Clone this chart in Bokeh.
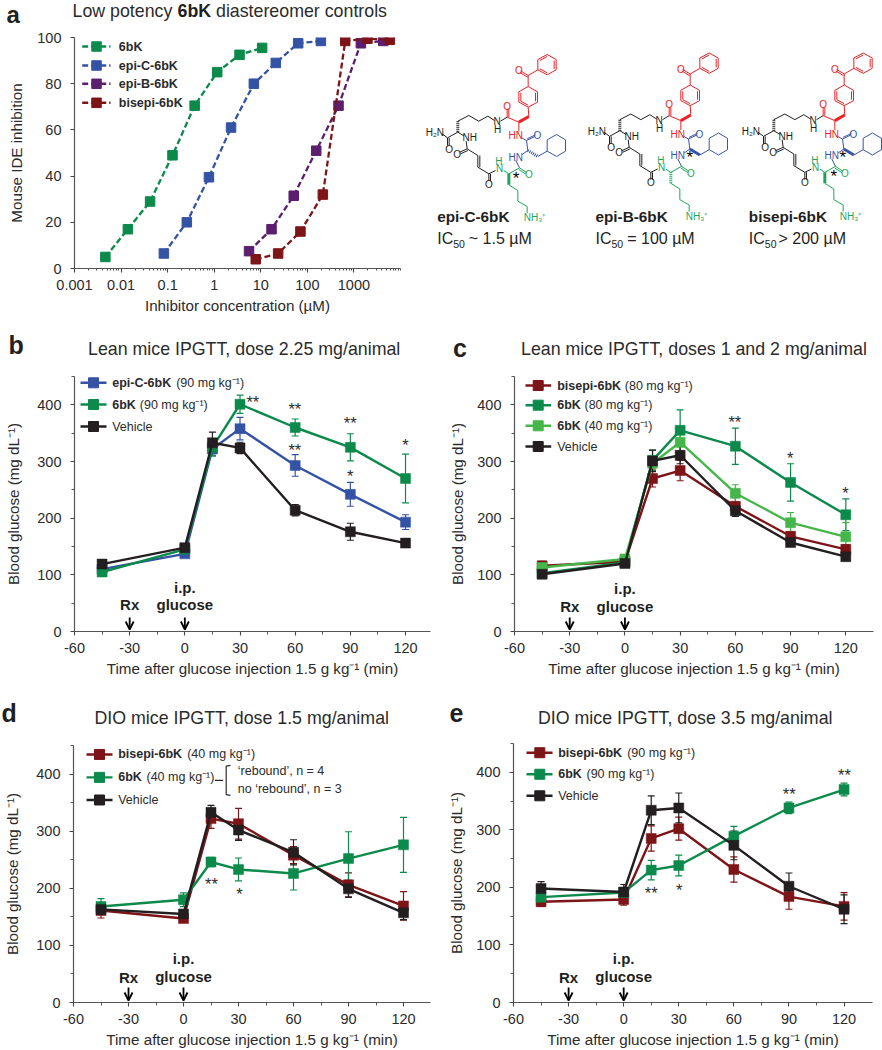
from bokeh.embed import file_html
from bokeh.resources import INLINE
from bokeh.layouts import column, row
from bokeh.models import (Label, Range1d, FixedTicker, LinearAxis, LogAxis, LogScale, ColumnDataSource,
                          Whisker, TeeHead, Arrow, OpenHead)
from bokeh.plotting import figure
import math

# ---------- colours / fonts
GREEN = "#0c8a4b"; BLUE = "#3553a5"; PURPLE = "#5c1f6f"; MAROON = "#7d1518"; BLACK = "#231f20"; LIGHT = "#45b649"
INK = "#2b2b2b"; FONT = "Liberation Sans"

# ---------- panel a data
a_6bk_x = [0.0046, 0.014, 0.042, 0.127, 0.38, 1.16, 3.5, 10.7]
a_6bk_y = [5, 17, 29, 49, 70.5, 85, 92.5, 95.5]
a_epic_x = [0.083, 0.258, 0.77, 2.3, 7.1, 21, 63.5, 195]
a_epic_y = [6.5, 20, 39.5, 61, 80, 89, 97.5, 98.5]
a_epib_x = [5.6, 17, 51, 155, 467, 1410, 4260]
a_epib_y = [7.5, 17, 31.5, 51, 70.5, 97.5, 98.5]
a_bis_x = [7.8, 23.6, 71, 215, 650, 1950, 5900]
a_bis_y = [4, 6.5, 16, 32, 98.5, 99.5, 99]
a_xticks = [0.001, 0.01, 0.1, 1, 10, 100, 1000]
a_xlabels = ["0.001", "0.01", "0.1", "1", "10", "100", "1000"]
a_yticks = [0, 20, 40, 60, 80, 100]

# ---------- time-course data
times = [-45, 0, 15, 30, 60, 90, 120]
time_ticks = [-60, -30, 0, 30, 60, 90, 120]
time_labels = ["-60", "-30", "0", "30", "60", "90", "120"]
time_minor = [-45, -15, 15, 45, 75, 105]
glu_ticks = [0, 100, 200, 300, 400]
glu_minor = [50, 150, 250, 350, 450]

b_epic = [110, 137, 322, 358, 293, 242, 193]
b_epic_e = [5, 4, 12, 20, 19, 21, 13]
b_6bk = [105, 145, 325, 401, 360, 325, 270]
b_6bk_e = [5, 5, 15, 16, 15, 24, 43]
b_veh = [119, 148, 333, 324, 214, 176, 156]
b_veh_e = [8, 6, 19, 10, 10, 15, 6]

c_bis = [116, 123, 270, 284, 221, 168, 145]
c_bis_e = [8, 8, 15, 18, 15, 8, 8]
c_6bk80 = [103, 122, 302, 355, 327, 263, 206]
c_6bk80_e = [6, 6, 18, 36, 32, 33, 28]
c_6bk40 = [113, 128, 297, 334, 244, 192, 167]
c_6bk40_e = [5, 6, 10, 20, 15, 18, 25]
c_veh = [101, 120, 301, 311, 213, 157, 132]
c_veh_e = [7, 7, 19, 15, 10, 5, 5]

d_bis = [161, 147, 322, 313, 258, 206, 169]
d_bis_e = [13, 5, 17, 27, 15, 21, 25]
d_6bk = [168, 180, 246, 233, 226, 252, 276]
d_6bk_e = [14, 12, 8, 20, 29, 47, 48]
d_veh = [163, 155, 333, 302, 263, 199, 157]
d_veh_e = [5, 6, 12, 18, 22, 15, 12]

e_bis = [175, 179, 285, 302, 231, 184, 167]
e_bis_e = [8, 10, 22, 20, 22, 22, 24]
e_6bk = [183, 191, 230, 238, 289, 338, 370]
e_6bk_e = [10, 5, 17, 18, 17, 10, 11]
e_veh = [198, 192, 334, 338, 273, 202, 162]
e_veh_e = [12, 13, 25, 26, 25, 23, 25]

XLAB = "Time after glucose injection 1.5 g kg\u207b\u00b9 (min)"
YLAB = "Blood glucose (mg dL\u207b\u00b9)"


class Panel:
    """A figure whose frame is placed at given page pixels; helpers map page pixels to data."""
    def __init__(self, ox, oy, w, h, fx0, fx1, fy0, fy1, xr, yr, log=False):
        fx0, fx1, fy0, fy1 = round(fx0), round(fx1), round(fy0), round(fy1)
        self.fx0, self.fx1, self.fy0, self.fy1, self.xr, self.yr, self.log = fx0, fx1, fy0, fy1, xr, yr, log
        self.p = figure(width=w, height=h, output_backend="svg", toolbar_location=None,
                        x_range=Range1d(*xr), y_range=Range1d(*yr), x_axis_type=None, y_axis_type=None)
        p = self.p
        p.frame_align = False
        if log:
            p.x_scale = LogScale()
        p.min_border_left = fx0 - ox; p.min_border_right = ox + w - fx1
        p.min_border_top = fy0 - oy; p.min_border_bottom = oy + h - fy1
        p.outline_line_color = None
        p.background_fill_color = None
        p.border_fill_color = None

    def X(self, px):
        t = (px - self.fx0) / (self.fx1 - self.fx0)
        if self.log:
            a, b = math.log10(self.xr[0]), math.log10(self.xr[1])
            return 10 ** (a + t * (b - a))
        return self.xr[0] + t * (self.xr[1] - self.xr[0])

    def Y(self, py):
        t = (self.fy1 - py) / (self.fy1 - self.fy0)
        return self.yr[0] + t * (self.yr[1] - self.yr[0])

    def text(self, px, py, s, size=14, bold=False, color=INK, align="left", baseline="middle"):
        self.p.add_layout(Label(x=self.X(px), y=self.Y(py), text=s, text_font=FONT,
                                text_font_size=f"{size}px", text_font_style="bold" if bold else "normal",
                                text_color=color, text_align=align, text_baseline=baseline))


def strip(oy, h, items):
    """Heading band: a figure without axes holding the panel letters and titles (page pixels)."""
    s = figure(width=874, height=h, output_backend="svg", toolbar_location=None, x_axis_type=None, y_axis_type=None,
               x_range=Range1d(0, 874), y_range=Range1d(oy + h, oy), min_border=0)
    s.frame_align = False
    s.outline_line_color = None
    s.border_fill_color = None
    for px, py, t, size, bold in items:
        s.add_layout(Label(x=px, y=py, text=t, text_font=FONT, text_font_size=f"{size}px",
                           text_font_style="bold" if bold else "normal", text_color=BLACK if bold else INK,
                           text_align="left", text_baseline="middle"))
    return s


def style_axis(ax):
    ax.axis_line_color = "#555555"; ax.axis_line_width = 1.2
    ax.major_tick_line_color = "#444444"; ax.minor_tick_line_color = "#555555"
    ax.major_tick_line_width = 1.1; ax.minor_tick_line_width = 1
    ax.major_tick_out = 4; ax.major_tick_in = 0; ax.minor_tick_out = 3; ax.minor_tick_in = 0
    ax.major_label_text_font = FONT; ax.major_label_text_font_size = "14.5px"; ax.major_label_text_color = INK
    ax.axis_label_text_font = FONT; ax.axis_label_text_font_size = "15.2px"; ax.axis_label_text_color = INK
    ax.axis_label_text_font_style = "normal"


def time_panel(ox, oy, w, h, fx0, fx1, fy0, fy1, x120, ylab_standoff):
    xend = -60 + 180 * (fx1 - fx0) / (x120 - fx0)
    P = Panel(ox, oy, w, h, fx0, fx1, fy0, fy1, (-60, xend), (0, 450))
    xa = LinearAxis(ticker=FixedTicker(ticks=time_ticks, minor_ticks=time_minor),
                    major_label_overrides=dict(zip(time_ticks, time_labels)), axis_label=XLAB)
    ya = LinearAxis(ticker=FixedTicker(ticks=glu_ticks, minor_ticks=glu_minor), axis_label=YLAB)
    for ax in (xa, ya):
        style_axis(ax)
    xa.major_label_standoff = 7; xa.axis_label_standoff = 4
    ya.major_label_standoff = 9; ya.axis_label_standoff = ylab_standoff
    P.p.add_layout(xa, "below"); P.p.add_layout(ya, "left")
    return P


def series(P, ys, es, color, size=10):
    p = P.p
    src = ColumnDataSource(dict(x=times, y=ys, u=[v + e for v, e in zip(ys, es)], l=[v - e for v, e in zip(ys, es)]))
    p.add_layout(Whisker(source=src, base="x", upper="u", lower="l", dimension="height",
                         line_color=color, line_width=1.2, level="underlay",
                         upper_head=TeeHead(size=7, line_color=color, line_width=1.2),
                         lower_head=TeeHead(size=7, line_color=color, line_width=1.2)))
    p.line("x", "y", source=src, line_color=color, line_width=2.4)
    p.scatter("x", "y", source=src, marker="square", size=size, fill_color=color, line_color=color, line_width=0.5)


def legend_row(P, y, x0, x1, xm, xt, bold, xn, rest, color, dash=None):
    kw = dict(line_dash=dash) if dash else {}
    P.p.line([P.X(x0), P.X(x1)], [P.Y(y), P.Y(y)], line_color=color, line_width=2.4, **kw)
    P.p.scatter([P.X(xm)], [P.Y(y)], marker="square", size=10 if not dash else 9.5, fill_color=color, line_color=color)
    P.text(xt, y, bold, size=12.5, bold=not rest == "__plain__", color=INK)
    if rest and rest != "__plain__":
        P.text(xn, y, rest, size=12.5, color=INK)


def P_x(P, t):
    return P.fx0 + (t - P.xr[0]) / (P.xr[1] - P.xr[0]) * (P.fx1 - P.fx0)


def markers(P, rx_y, ip_y, glu_y, y_tip, y_tail):
    P.text(P_x(P, -30), rx_y, "Rx", size=15, bold=True, align="center", color=BLACK)
    P.text(P_x(P, 0), ip_y, "i.p.", size=15, bold=True, align="center", color=BLACK)
    P.text(P_x(P, 0), glu_y, "glucose", size=15, bold=True, align="center", color=BLACK)
    for t in (-30, 0):
        P.p.add_layout(Arrow(end=OpenHead(size=8, line_width=1.8, line_color="black"), x_start=t, x_end=t,
                             y_start=P.Y(y_tail), y_end=P.Y(y_tip), line_width=1.8, line_color="black"))


def stars(P, items):
    for x, y, s in items:
        P.text(x, y + 4, s, size=16.5, color=INK, align="center")


# ---------- Panel a
A = Panel(0, 27, 410, 299, 74, 400, 37, 268.5, (0.001, 10000), (0, 100), log=True)
pa = A.p
xa = LogAxis(ticker=FixedTicker(ticks=a_xticks,
                                minor_ticks=[m * 10 ** e for e in range(-3, 4) for m in (2, 3, 4, 5, 6, 7, 8, 9)] + [10000]),
             major_label_overrides=dict(zip(a_xticks, a_xlabels)), axis_label="Inhibitor concentration (\u00b5M)")
ya = LinearAxis(ticker=FixedTicker(ticks=a_yticks), axis_label="Mouse IDE inhibition")
style_axis(xa); style_axis(ya)
xa.major_label_standoff = 7; xa.axis_label_standoff = 4; xa.minor_tick_out = 2
ya.major_label_standoff = 9; ya.axis_label_standoff = 9
pa.add_layout(xa, "below"); pa.add_layout(ya, "left")
for xs, ys, c in [(a_6bk_x, a_6bk_y, GREEN), (a_epic_x, a_epic_y, BLUE), (a_epib_x, a_epib_y, PURPLE), (a_bis_x, a_bis_y, MAROON)]:
    pa.line(xs, ys, line_color=c, line_width=2.3, line_dash="6 3")
    pa.scatter(xs, ys, marker="square", size=9.5, fill_color=c, line_color=c)
for y, t, c in [(46, "6bK", GREEN), (65, "epi-C-6bK", BLUE), (83.3, "epi-B-6bK", PURPLE), (102.3, "bisepi-6bK", MAROON)]:
    legend_row(A, y, 81.7, 110, 96, 118.3, t, 0, "", c, dash="6 3")

# ---------- Structures (page-pixel drawing canvas, no data)
S = figure(width=472, height=299, output_backend="svg", toolbar_location=None, x_axis_type=None, y_axis_type=None,
           x_range=Range1d(410, 882), y_range=Range1d(326, 27), min_border=0)
S.frame_align = False
S.outline_line_color = None
S.border_fill_color = None
CR = "#ed2024"; CB = "#3953a4"; CG = "#1fa55a"; CK = "#231f20"


def ring(pts):
    return list(zip(pts, pts[1:] + pts[:1]))


def structure(dx, dy, blue_bold, green_bold, stars_at, name, name_x, ic, ic_x):
    def Z(pt):
        return (400 + pt[0] / 3 + dx, 50 + pt[1] / 3 + dy)

    def bond(a, b, c, w=1.0, dash=None):
        A_, B_ = Z(a), Z(b)
        kw = dict(line_dash=dash) if dash else {}
        S.line([A_[0], B_[0]], [A_[1], B_[1]], line_color=c, line_width=w, **kw)

    def dbl(a, b, c, ox=5, oy=0):
        bond(a, b, c)
        bond((a[0] + ox, a[1] + oy), (b[0] + ox, b[1] + oy), c)

    def lab(pt, s, c, size=10):
        X, Y = Z(pt)
        S.add_layout(Label(x=X, y=Y, text=s, text_font=FONT, text_font_size=f"{size}px", text_color=c,
                           text_align="center", text_baseline="middle"))

    # black part
    bond((125, 250), (141, 262), CK); dbl((141, 262), (141, 285), CK, 5)
    bond((141, 262), (172, 245), CK); bond((172, 245), (172, 212), CK, 3, "1 1")
    for a, b in [((172, 212), (205, 195)), ((205, 195), (235, 212)), ((235, 212), (262, 197)), ((262, 197), (282, 210)),
                 ((300, 212), (320, 200)), ((172, 245), (190, 256)), ((197, 272), (200, 295)),
                 ((200, 295), (232, 315)), ((232, 350), (265, 370)), ((265, 370), (285, 360))]:
        bond(a, b, CK)
    dbl((200, 295), (178, 305), CK, 2, 5); dbl((232, 315), (232, 350), CK, 6)
    dbl((265, 370), (265, 392), CK, 5)
    lab((103, 247), "H\u2082N", CK); lab((146, 296), "O", CK); lab((208, 262), "NH", CK)
    lab((170, 311), "O", CK); lab((265, 401), "O", CK)
    lab((290, 213), "N", CK); lab((291, 237), "H", CK)
    # red part
    bond((320, 200), (355, 215), CR); dbl((320, 200), (320, 175), CR, 5)
    bond((355, 215), (385, 198), CR, 3); bond((385, 198), (383, 170), CR)
    ra = [(383, 108), (411, 124), (411, 155), (383, 170), (355, 155), (355, 124)]
    for a, b in ring(ra):
        bond(a, b, CR)
    bond((361, 127), (361, 152), CR); bond((405, 127), (405, 152), CR); bond((383, 164), (361, 152), CR)
    bond((383, 108), (383, 75), CR); dbl((383, 75), (360, 61), CR, -2, 5); bond((383, 75), (412, 58), CR)
    rb = [(440, 12), (467, 27), (467, 58), (440, 73), (412, 58), (412, 27)]
    for a, b in ring(rb):
        bond(a, b, CR)
    bond((461, 30), (461, 55), CR); bond((418, 30), (440, 18), CR); bond((418, 55), (440, 67), CR)
    bond((355, 215), (355, 243), CR)
    lab((320, 167), "O", CR); lab((355, 60), "O", CR); lab((346, 255), "HN", CR)
    # blue part
    bond((363, 262), (378, 270), CB); dbl((378, 270), (403, 258), CB, 2, -5)
    bond((378, 270), (382, 300), CB); bond((382, 300), (365, 312), CB)
    bond((382, 300), (412, 318), CB, 3, None if blue_bold else "1 1")
    bond((412, 318), (440, 302), CB)
    rc = [(468, 252), (495, 268), (495, 302), (468, 318), (440, 302), (440, 268)]
    for a, b in ring(rc):
        bond(a, b, CB)
    lab((411, 255), "O", CB); lab((346, 320), "HN", CB)
    bond((346, 330), (357, 352), CB)
    # green part
    dbl((357, 352), (378, 366), CG, -2, 5); bond((357, 352), (325, 370), CG)
    bond((325, 370), (310, 360), CG); bond((325, 370), (325, 403), CG, 3, None if green_bold else "1 1")
    for a, b in [((325, 403), (352, 420)), ((352, 420), (352, 452)), ((352, 452), (380, 468)), ((380, 468), (380, 488))]:
        bond(a, b, CG)
    lab((385, 372), "O", CG); lab((297, 355), "N", CG); lab((295, 333), "H", CG)
    lab((402, 502), "NH\u2083\u207a", CG)
    for pt in stars_at:
        lab(pt, "*", "black", 17)
    # captions (x are page pixels, relative to the drawing's own shift)
    for px, py, s, size, bold in [(name_x, 215.7, name, 15.3, True), (name_x, 238.3, "IC", 16, False),
                                  (name_x + 16, 243, "50", 10.5, False), (ic_x, 238.3, ic, 16, False)]:
        S.add_layout(Label(x=px, y=py, text=s, text_font=FONT, text_font_size=f"{size}px", text_color=CK,
                           text_font_style="bold" if bold else "normal", text_align="left", text_baseline="middle"))


structure(0, 0, False, True, [(347, 384)], "epi-C-6bK", 436.7, "~ 1.5 \u00b5M", 468.3)
structure(162, -1.5, True, False, [(382, 326)], "epi-B-6bK", 595, "= 100 \u00b5M", 626.7)
structure(316, -1.5, True, True, [(379, 326), (352, 382)], "bisepi-6bK", 748.3, "> 200 \u00b5M", 778)

# ---------- Panel b
B = time_panel(0, 360, 440, 334, 73.7, 430, 375.7, 631, 405, 12)
series(B, b_epic, b_epic_e, BLUE); series(B, b_6bk, b_6bk_e, GREEN); series(B, b_veh, b_veh_e, BLACK)
for y, t, xn, rest, c in [(382.3, "epi-C-6bK", 175.7, "(90 mg kg\u207b\u00b9)", BLUE),
                          (404, "6bK", 139.3, "(90 mg kg\u207b\u00b9)", GREEN)]:
    legend_row(B, y, 80, 106, 93, 111.7, t, xn, rest, c)
legend_row(B, 426, 80, 106, 93, 111.7, "Vehicle", 0, "__plain__", BLACK)
markers(B, 604, 587, 604, 629, 617)
stars(B, [(252.3, 397.7, "**"), (294.3, 404, "**"), (349.7, 418.3, "**"), (405, 440.7, "*"), (294.3, 445.7, "**"), (349.7, 471.7, "*")])

# ---------- Panel c
C = time_panel(440, 360, 434, 334, 513.7, 872.7, 376, 631, 845, 8)
series(C, c_bis, c_bis_e, MAROON); series(C, c_6bk80, c_6bk80_e, GREEN); series(C, c_6bk40, c_6bk40_e, LIGHT); series(C, c_veh, c_veh_e, BLACK)
for y, t, xn, rest, c in [(385, "bisepi-6bK", 624.3, "(80 mg kg\u207b\u00b9)", MAROON),
                          (404.7, "6bK", 584, "(80 mg kg\u207b\u00b9)", GREEN),
                          (425.3, "6bK", 584, "(40 mg kg\u207b\u00b9)", LIGHT)]:
    legend_row(C, y, 525, 550.7, 537.7, 556.7, t, xn, rest, c)
legend_row(C, 446, 525, 550.7, 537.7, 556.7, "Vehicle", 0, "__plain__", BLACK)
markers(C, 606, 588, 606, 629, 617)
stars(C, [(734.3, 417, "**"), (789.7, 453.3, "*"), (845, 488.3, "*")])

# ---------- Panel d
D = time_panel(0, 728, 440, 322, 73, 430, 745, 1003.3, 403, 12)
series(D, d_bis, d_bis_e, MAROON); series(D, d_6bk, d_6bk_e, GREEN); series(D, d_veh, d_veh_e, BLACK)
for y, t, xn, rest, c in [(754, "bisepi-6bK", 186.7, "(40 mg kg\u207b\u00b9)", MAROON),
                          (777, "6bK", 146, "(40 mg kg\u207b\u00b9)", GREEN)]:
    legend_row(D, y, 86, 112, 99, 117.7, t, xn, rest, c)
legend_row(D, 799.7, 86, 112, 99, 117.7, "Vehicle", 0, "__plain__", BLACK)
D.p.line([D.X(214.3), D.X(222.7)], [D.Y(780), D.Y(780)], line_color=INK, line_width=1.2)
D.p.line([D.X(230), D.X(225.7), D.X(225.7), D.X(230)], [D.Y(765), D.Y(765.7), D.Y(794.3), D.Y(795)], line_color=INK, line_width=1.2)
D.text(237.3, 770.3, "\u2018rebound\u2019, n = 4", size=12.5)
D.text(237.3, 788.3, "no \u2018rebound\u2019, n = 3", size=12.5)
markers(D, 978, 959, 977, 1001, 988)
stars(D, [(211, 880.3, "**"), (239, 890, "*")])

# ---------- Panel e
E = time_panel(440, 728, 434, 322, 513.3, 871.7, 743, 1004.3, 843.3, 8)
series(E, e_bis, e_bis_e, MAROON); series(E, e_6bk, e_6bk_e, GREEN); series(E, e_veh, e_veh_e, BLACK)
for y, t, xn, rest, c in [(752.3, "bisepi-6bK", 626.7, "(90 mg kg\u207b\u00b9)", MAROON),
                          (774, "6bK", 586, "(90 mg kg\u207b\u00b9)", GREEN)]:
    legend_row(E, y, 526, 552, 539.3, 557.7, t, xn, rest, c)
legend_row(E, 795.7, 526, 552, 539.3, 557.7, "Vehicle", 0, "__plain__", BLACK)
markers(E, 979, 960, 978, 1002, 989)
stars(E, [(650.7, 889.7, "**"), (678.7, 887, "*"), (788.7, 790, "**"), (844, 771, "**")])

# ---------- Headings
TS = 17.8
head_a = strip(0, 27, [(6, 13.5, "a", 24, True), (72, 10.5, "Low potency", TS, False),
                       (177, 10.5, "6bK", TS, True), (215.5, 10.5, "diastereomer controls", TS, False)])
head_b = strip(326, 34, [(8, 344, "b", 25, True),
                         (87.5, 348, "Lean mice IPGTT, dose 2.25 mg/animal", TS, False),
                         (452.5, 347, "c", 25, True),
                         (520.5, 348, "Lean mice IPGTT, doses 1 and 2 mg/animal", TS, False)])
head_d = strip(694, 34, [(1, 712, "d", 25, True),
                         (94, 717, "DIO mice IPGTT, dose 1.5 mg/animal", TS, False),
                         (449, 712, "e", 25, True),
                         (537.5, 717, "DIO mice IPGTT, dose 3.5 mg/animal", TS, False)])

root = column(head_a, row(pa, S, spacing=0), head_b, row(B.p, C.p, spacing=0), head_d, row(D.p, E.p, spacing=0),
              spacing=0)
open("out.html", "w").write(file_html(root, INLINE))
